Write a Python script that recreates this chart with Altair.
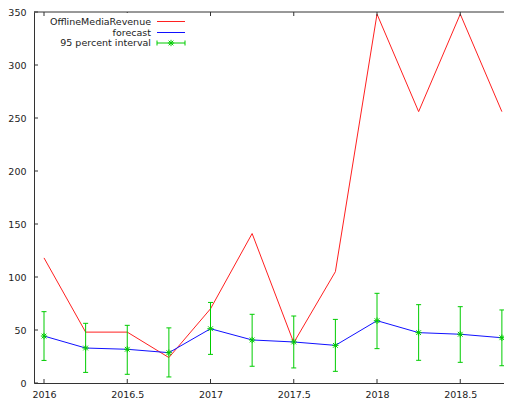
import altair as alt
import pandas as pd

quarters = [2016.0, 2016.25, 2016.5, 2016.75, 2017.0, 2017.25, 2017.5, 2017.75,
            2018.0, 2018.25, 2018.5, 2018.75]
revenue = [118, 48, 48, 24, 70, 141, 38, 105, 348, 256, 348, 256]
forecast = [44.3, 33.0, 31.8, 28.6, 51.2, 40.6, 38.7, 35.5, 58.8, 47.5, 46.0, 42.7]
lower = [21.3, 10.0, 8.2, 5.7, 27.0, 15.8, 14.2, 11.0, 32.4, 21.4, 19.5, 16.3]
upper = [67.3, 56.3, 54.4, 52.0, 76.0, 64.8, 63.2, 60.0, 84.6, 73.9, 72.0, 68.9]
x_ticks = [2016, 2016.5, 2017, 2017.5, 2018, 2018.5]
y_ticks = [0, 50, 100, 150, 200, 250, 300, 350]
legend_labels = ["OfflineMediaRevenue", "forecast", "95 percent interval"]

W, H = 470, 371
PXY = 166.5
FONT = "DejaVu Sans"
FS = 9.5
TXT = "#222222"
AX = "#333333"
RED = "#ff2020"
BLUE = "#1010ff"
GREEN = "#00cc00"
STAR = "M-1,0L1,0M0,-1L0,1M-0.75,-0.75L0.75,0.75M-0.75,0.75L0.75,-0.75"

df = pd.DataFrame({"q": quarters, "rev": revenue, "fc": forecast,
                   "lo": lower, "hi": upper})

x0 = 2016 - 10 / PXY
xs = alt.Scale(domain=[x0, x0 + W / PXY], nice=False, zero=False)
ys = alt.Scale(domain=[0, 350], nice=False)

xaxis = alt.Axis(values=x_ticks, format="~g", ticks=False, grid=False,
                 labelFont=FONT, labelFontSize=FS, labelColor=TXT,
                 labelPadding=6, domainColor=AX, title=None,
                 labelFlush=False)
yaxis = alt.Axis(values=y_ticks, ticks=False, grid=False,
                 labelFont=FONT, labelFontSize=FS, labelColor=TXT,
                 labelPadding=8, domainColor=AX, title=None)

base = alt.Chart(df)
X = alt.X("q:Q", scale=xs, axis=xaxis)
Y = lambda f: alt.Y(f"{f}:Q", scale=ys, axis=yaxis)

red_line = base.mark_line(color=RED, strokeWidth=1).encode(x=X, y=Y("rev"))
blue_line = base.mark_line(color=BLUE, strokeWidth=1).encode(x=X, y=Y("fc"))
err = base.mark_rule(color=GREEN, strokeWidth=1).encode(
    x=X, y=Y("lo"), y2="hi:Q")
cap_hi = base.mark_rule(color=GREEN, strokeWidth=1, xOffset=-2.5, x2Offset=2.5).encode(
    x=X, x2="q:Q", y=Y("hi"))
cap_lo = base.mark_rule(color=GREEN, strokeWidth=1, xOffset=-2.5, x2Offset=2.5).encode(
    x=X, x2="q:Q", y=Y("lo"))
pts = base.mark_point(shape=STAR, filled=False, color=GREEN, size=40,
                      strokeWidth=1, opacity=1).encode(x=X, y=Y("fc"))

xt = alt.Chart(pd.DataFrame({"t": x_ticks}))
yt = alt.Chart(pd.DataFrame({"t": y_ticks}))
tick_bot = xt.mark_rule(color=AX).encode(
    x=alt.X("t:Q", scale=xs, axis=xaxis), y=alt.value(H), y2=alt.value(H - 4))
tick_top = xt.mark_rule(color=AX).encode(
    x=alt.X("t:Q", scale=xs, axis=xaxis), y=alt.value(0), y2=alt.value(4))
tick_left = yt.mark_rule(color=AX).encode(
    y=alt.Y("t:Q", scale=ys, axis=yaxis), x=alt.value(0), x2=alt.value(4))

one = alt.Chart(pd.DataFrame({"a": [0]}))
top_border = one.mark_rule(color=AX, strokeWidth=1).encode(
    x=alt.value(0), x2=alt.value(W), y=alt.value(0))
key_bg = one.mark_rect(color="white").encode(
    x=alt.value(12), x2=alt.value(158), y=alt.value(1), y2=alt.value(37))

def key_text(label, yy):
    return one.mark_text(align="right", baseline="middle", font=FONT,
                         fontSize=FS, color=TXT).encode(
        x=alt.value(117), y=alt.value(yy), text=alt.value(label))

k1 = key_text(legend_labels[0], 9.5)
k2 = key_text(legend_labels[1], 20.5)
k3 = key_text(legend_labels[2], 31)
s1 = one.mark_rule(color=RED).encode(x=alt.value(123), x2=alt.value(151), y=alt.value(9.5))
s2 = one.mark_rule(color=BLUE).encode(x=alt.value(123), x2=alt.value(151), y=alt.value(20.5))
s3 = one.mark_rule(color=GREEN).encode(x=alt.value(123), x2=alt.value(151), y=alt.value(31))
s3a = one.mark_rule(color=GREEN).encode(x=alt.value(123), y=alt.value(28.5), y2=alt.value(33.5))
s3b = one.mark_rule(color=GREEN).encode(x=alt.value(151), y=alt.value(28.5), y2=alt.value(33.5))
s3p = one.mark_point(shape=STAR, filled=False, color=GREEN, size=40, strokeWidth=1,
                     opacity=1).encode(x=alt.value(137), y=alt.value(31))

chart = alt.layer(
    red_line, blue_line, err, cap_hi, cap_lo, pts,
    tick_bot, tick_top, tick_left, top_border,
    key_bg, k1, k2, k3, s1, s2, s3, s3a, s3b, s3p,
).properties(
    width=W, height=H,
    autosize=alt.AutoSizeParams(type="none"),
    padding={"left": 26, "top": 4, "right": 0, "bottom": 20},
    background="white",
).configure_view(stroke=None)

chart.save("out.html", embed_options={"renderer": "svg", "actions": False})
